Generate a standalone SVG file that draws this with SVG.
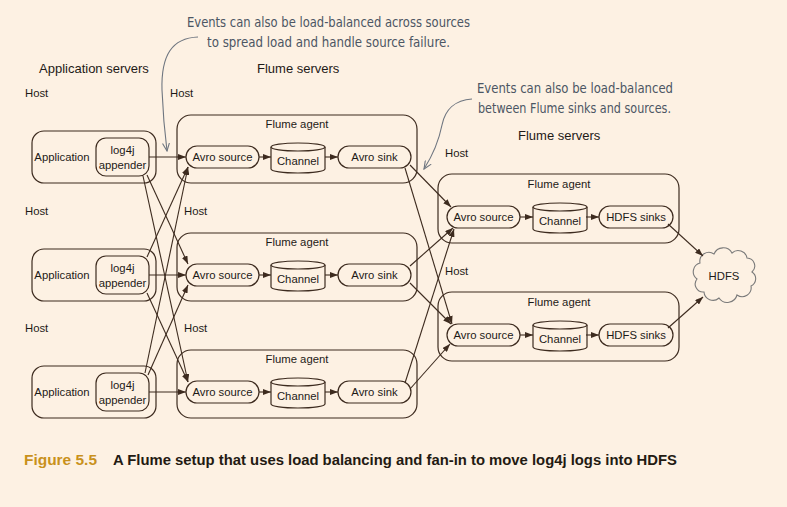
<svg xmlns="http://www.w3.org/2000/svg" width="787" height="507" viewBox="0 0 787 507">
<style>
.box{fill:none;stroke:#3d2b1f;stroke-width:1.2}
.pill{fill:#fdf1e3;stroke:#3d2b1f;stroke-width:1.2}
.t{font-family:"Liberation Sans",Arial,sans-serif;font-size:11.3px;fill:#1e1a17}
.c{text-anchor:middle}
.h{font-family:"Liberation Sans",Arial,sans-serif;font-size:13px;fill:#1e1a17}
.note{font-family:"DejaVu Sans Condensed","Noto Sans",sans-serif;font-size:13.5px;fill:#4c5663}
.ln{fill:none;stroke:#3d2b1f;stroke-width:1.1}
.gl{fill:none;stroke:#6f7680;stroke-width:1.1}
</style>
<defs>
<marker id="ah" markerUnits="userSpaceOnUse" markerWidth="8" markerHeight="6" refX="8" refY="3" orient="auto"><path d="M0,0 L8,3 L0,6 z" fill="#3d2b1f"/></marker>
<marker id="gh" markerUnits="userSpaceOnUse" markerWidth="9" markerHeight="8" refX="8" refY="4" orient="auto"><path d="M0,0.5 L8,4 L0,7.5" fill="none" stroke="#6f7680" stroke-width="1.1"/></marker>
<symbol id="chan" overflow="visible"><path d="M0,0 V22 A27,4 0 0 0 54,22 V0" class="pill"/><ellipse cx="27" cy="0" rx="27" ry="4" class="pill"/></symbol>
</defs>
<rect width="787" height="507" fill="#fdf1e3"/>

<g id="annotations">
<text class="note" x="187" y="27" textLength="283" lengthAdjust="spacingAndGlyphs">Events can also be load-balanced across sources</text>
<text class="note" x="207" y="47" textLength="243" lengthAdjust="spacingAndGlyphs">to spread load and handle source failure.</text>
<path class="gl" d="M198,37 C172,38 161,55 162,90 C163,115 165,135 167,151" marker-end="url(#gh)"/>
<text class="note" x="477" y="93" textLength="196" lengthAdjust="spacingAndGlyphs">Events can also be load-balanced</text>
<text class="note" x="478" y="113" textLength="193" lengthAdjust="spacingAndGlyphs">between Flume sinks and sources.</text>
<path class="gl" d="M472,99 C455,100 445,110 442,125 C438,145 431,158 424,169" marker-end="url(#gh)"/>
</g>

<g id="headings">
<text class="h" x="39" y="73">Application servers</text>
<text class="h" x="257" y="73">Flume servers</text>
<text class="h" x="518" y="140">Flume servers</text>
<text class="t" x="25" y="97">Host</text>
<text class="t" x="25" y="215">Host</text>
<text class="t" x="25" y="332">Host</text>
<text class="t" x="170" y="97">Host</text>
<text class="t" x="184" y="215">Host</text>
<text class="t" x="184" y="332">Host</text>
<text class="t" x="445" y="157">Host</text>
<text class="t" x="445" y="275">Host</text>
</g>

<g id="app1" transform="translate(0,157)">
<rect class="box" x="32" y="-26" width="124" height="52" rx="12"/>
<text class="t c" x="62" y="4">Application</text>
<rect class="pill" x="96" y="-19" width="53" height="38" rx="10"/>
<text class="t c" x="122.5" y="-3">log4j</text>
<text class="t c" x="122.5" y="12">appender</text>
</g>
<g id="app2" transform="translate(0,275)">
<rect class="box" x="32" y="-26" width="124" height="52" rx="12"/>
<text class="t c" x="62" y="4">Application</text>
<rect class="pill" x="96" y="-19" width="53" height="38" rx="10"/>
<text class="t c" x="122.5" y="-3">log4j</text>
<text class="t c" x="122.5" y="12">appender</text>
</g>
<g id="app3" transform="translate(0,392)">
<rect class="box" x="32" y="-26" width="124" height="52" rx="12"/>
<text class="t c" x="62" y="4">Application</text>
<rect class="pill" x="96" y="-19" width="53" height="38" rx="10"/>
<text class="t c" x="122.5" y="-3">log4j</text>
<text class="t c" x="122.5" y="12">appender</text>
</g>

<g id="agent1" transform="translate(0,157)">
<rect class="box" x="177" y="-42" width="240" height="68" rx="14"/>
<text class="t c" x="297" y="-29">Flume agent</text>
<rect class="pill" x="186" y="-11" width="73" height="22" rx="11"/>
<text class="t c" x="222.5" y="4">Avro source</text>
<use href="#chan" x="271" y="-10"/>
<text class="t c" x="298" y="8">Channel</text>
<rect class="pill" x="338" y="-11" width="73" height="22" rx="11"/>
<text class="t c" x="374.5" y="4">Avro sink</text>
</g>
<g id="agent2" transform="translate(0,275)">
<rect class="box" x="177" y="-42" width="240" height="68" rx="14"/>
<text class="t c" x="297" y="-29">Flume agent</text>
<rect class="pill" x="186" y="-11" width="73" height="22" rx="11"/>
<text class="t c" x="222.5" y="4">Avro source</text>
<use href="#chan" x="271" y="-10"/>
<text class="t c" x="298" y="8">Channel</text>
<rect class="pill" x="338" y="-11" width="73" height="22" rx="11"/>
<text class="t c" x="374.5" y="4">Avro sink</text>
</g>
<g id="agent3" transform="translate(0,392)">
<rect class="box" x="177" y="-42" width="240" height="68" rx="14"/>
<text class="t c" x="297" y="-29">Flume agent</text>
<rect class="pill" x="186" y="-11" width="73" height="22" rx="11"/>
<text class="t c" x="222.5" y="4">Avro source</text>
<use href="#chan" x="271" y="-10"/>
<text class="t c" x="298" y="8">Channel</text>
<rect class="pill" x="338" y="-11" width="73" height="22" rx="11"/>
<text class="t c" x="374.5" y="4">Avro sink</text>
</g>

<g id="agent4" transform="translate(0,217)">
<rect class="box" x="438" y="-43" width="241" height="69" rx="14"/>
<text class="t c" x="559" y="-29">Flume agent</text>
<rect class="pill" x="447" y="-11" width="73" height="22" rx="11"/>
<text class="t c" x="483.5" y="4">Avro source</text>
<use href="#chan" x="533" y="-10"/>
<text class="t c" x="560" y="8">Channel</text>
<rect class="pill" x="599" y="-11" width="74" height="22" rx="11"/>
<text class="t c" x="636" y="4">HDFS sinks</text>
</g>
<g id="agent5" transform="translate(0,335)">
<rect class="box" x="438" y="-43" width="241" height="69" rx="14"/>
<text class="t c" x="559" y="-29">Flume agent</text>
<rect class="pill" x="447" y="-11" width="73" height="22" rx="11"/>
<text class="t c" x="483.5" y="4">Avro source</text>
<use href="#chan" x="533" y="-10"/>
<text class="t c" x="560" y="8">Channel</text>
<rect class="pill" x="599" y="-11" width="74" height="22" rx="11"/>
<text class="t c" x="636" y="4">HDFS sinks</text>
</g>

<g id="hdfs">
<path d="M700,263 a9,9 0 0 1 14,-9 a10,10 0 0 1 18,-1 a9,9 0 0 1 15,5 a8,8 0 0 1 5,14 a8,8 0 0 1 -1,14 a9,9 0 0 1 -14,9 a10,10 0 0 1 -18,3 a9,9 0 0 1 -15,-6 a8,8 0 0 1 -7,-13 a9,9 0 0 1 3,-16 z" fill="#fdf1e3" stroke="#7a7a7a" stroke-width="1.1"/>
<text class="t c" x="724" y="280">HDFS</text>
</g>

<g id="connectors">
<path class="ln" d="M149,157 H186" marker-end="url(#ah)"/>
<path class="ln" d="M149,275 H186" marker-end="url(#ah)"/>
<path class="ln" d="M149,392 H186" marker-end="url(#ah)"/>
<path class="ln" d="M259,157 H271" marker-end="url(#ah)"/>
<path class="ln" d="M259,275 H271" marker-end="url(#ah)"/>
<path class="ln" d="M259,392 H271" marker-end="url(#ah)"/>
<path class="ln" d="M325,157 H338" marker-end="url(#ah)"/>
<path class="ln" d="M325,275 H338" marker-end="url(#ah)"/>
<path class="ln" d="M325,392 H338" marker-end="url(#ah)"/>
<path class="ln" d="M520,217 H533" marker-end="url(#ah)"/>
<path class="ln" d="M586,217 H599" marker-end="url(#ah)"/>
<path class="ln" d="M520,335 H533" marker-end="url(#ah)"/>
<path class="ln" d="M586,335 H599" marker-end="url(#ah)"/>
<path class="ln" d="M147,175 L188,264" marker-end="url(#ah)"/>
<path class="ln" d="M143,176 L188,382" marker-end="url(#ah)"/>
<path class="ln" d="M147,257 L188,167" marker-end="url(#ah)"/>
<path class="ln" d="M147,293 L188,382" marker-end="url(#ah)"/>
<path class="ln" d="M145,373 L188,167" marker-end="url(#ah)"/>
<path class="ln" d="M148,375 L188,285" marker-end="url(#ah)"/>
<path class="ln" d="M410,165 L451,207" marker-end="url(#ah)"/>
<path class="ln" d="M405,168 L452,324" marker-end="url(#ah)"/>
<path class="ln" d="M410,266 L453,228" marker-end="url(#ah)"/>
<path class="ln" d="M410,283 L451,324" marker-end="url(#ah)"/>
<path class="ln" d="M405,383 L454,229" marker-end="url(#ah)"/>
<path class="ln" d="M410,389 L450,344" marker-end="url(#ah)"/>
<path class="ln" d="M668,224 L703,256" marker-end="url(#ah)"/>
<path class="ln" d="M668,328 L703,297" marker-end="url(#ah)"/>
</g>

<g id="caption">
<text x="24" y="465" font-family="Liberation Sans,Arial,sans-serif" font-weight="bold" font-size="14" fill="#c9911c" textLength="73" lengthAdjust="spacingAndGlyphs">Figure 5.5</text>
<text x="113" y="465" font-family="Liberation Sans,Arial,sans-serif" font-weight="bold" font-size="14" fill="#231a12" textLength="564" lengthAdjust="spacingAndGlyphs">A Flume setup that uses load balancing and fan-in to move log4j logs into HDFS</text>
</g>
</svg>
